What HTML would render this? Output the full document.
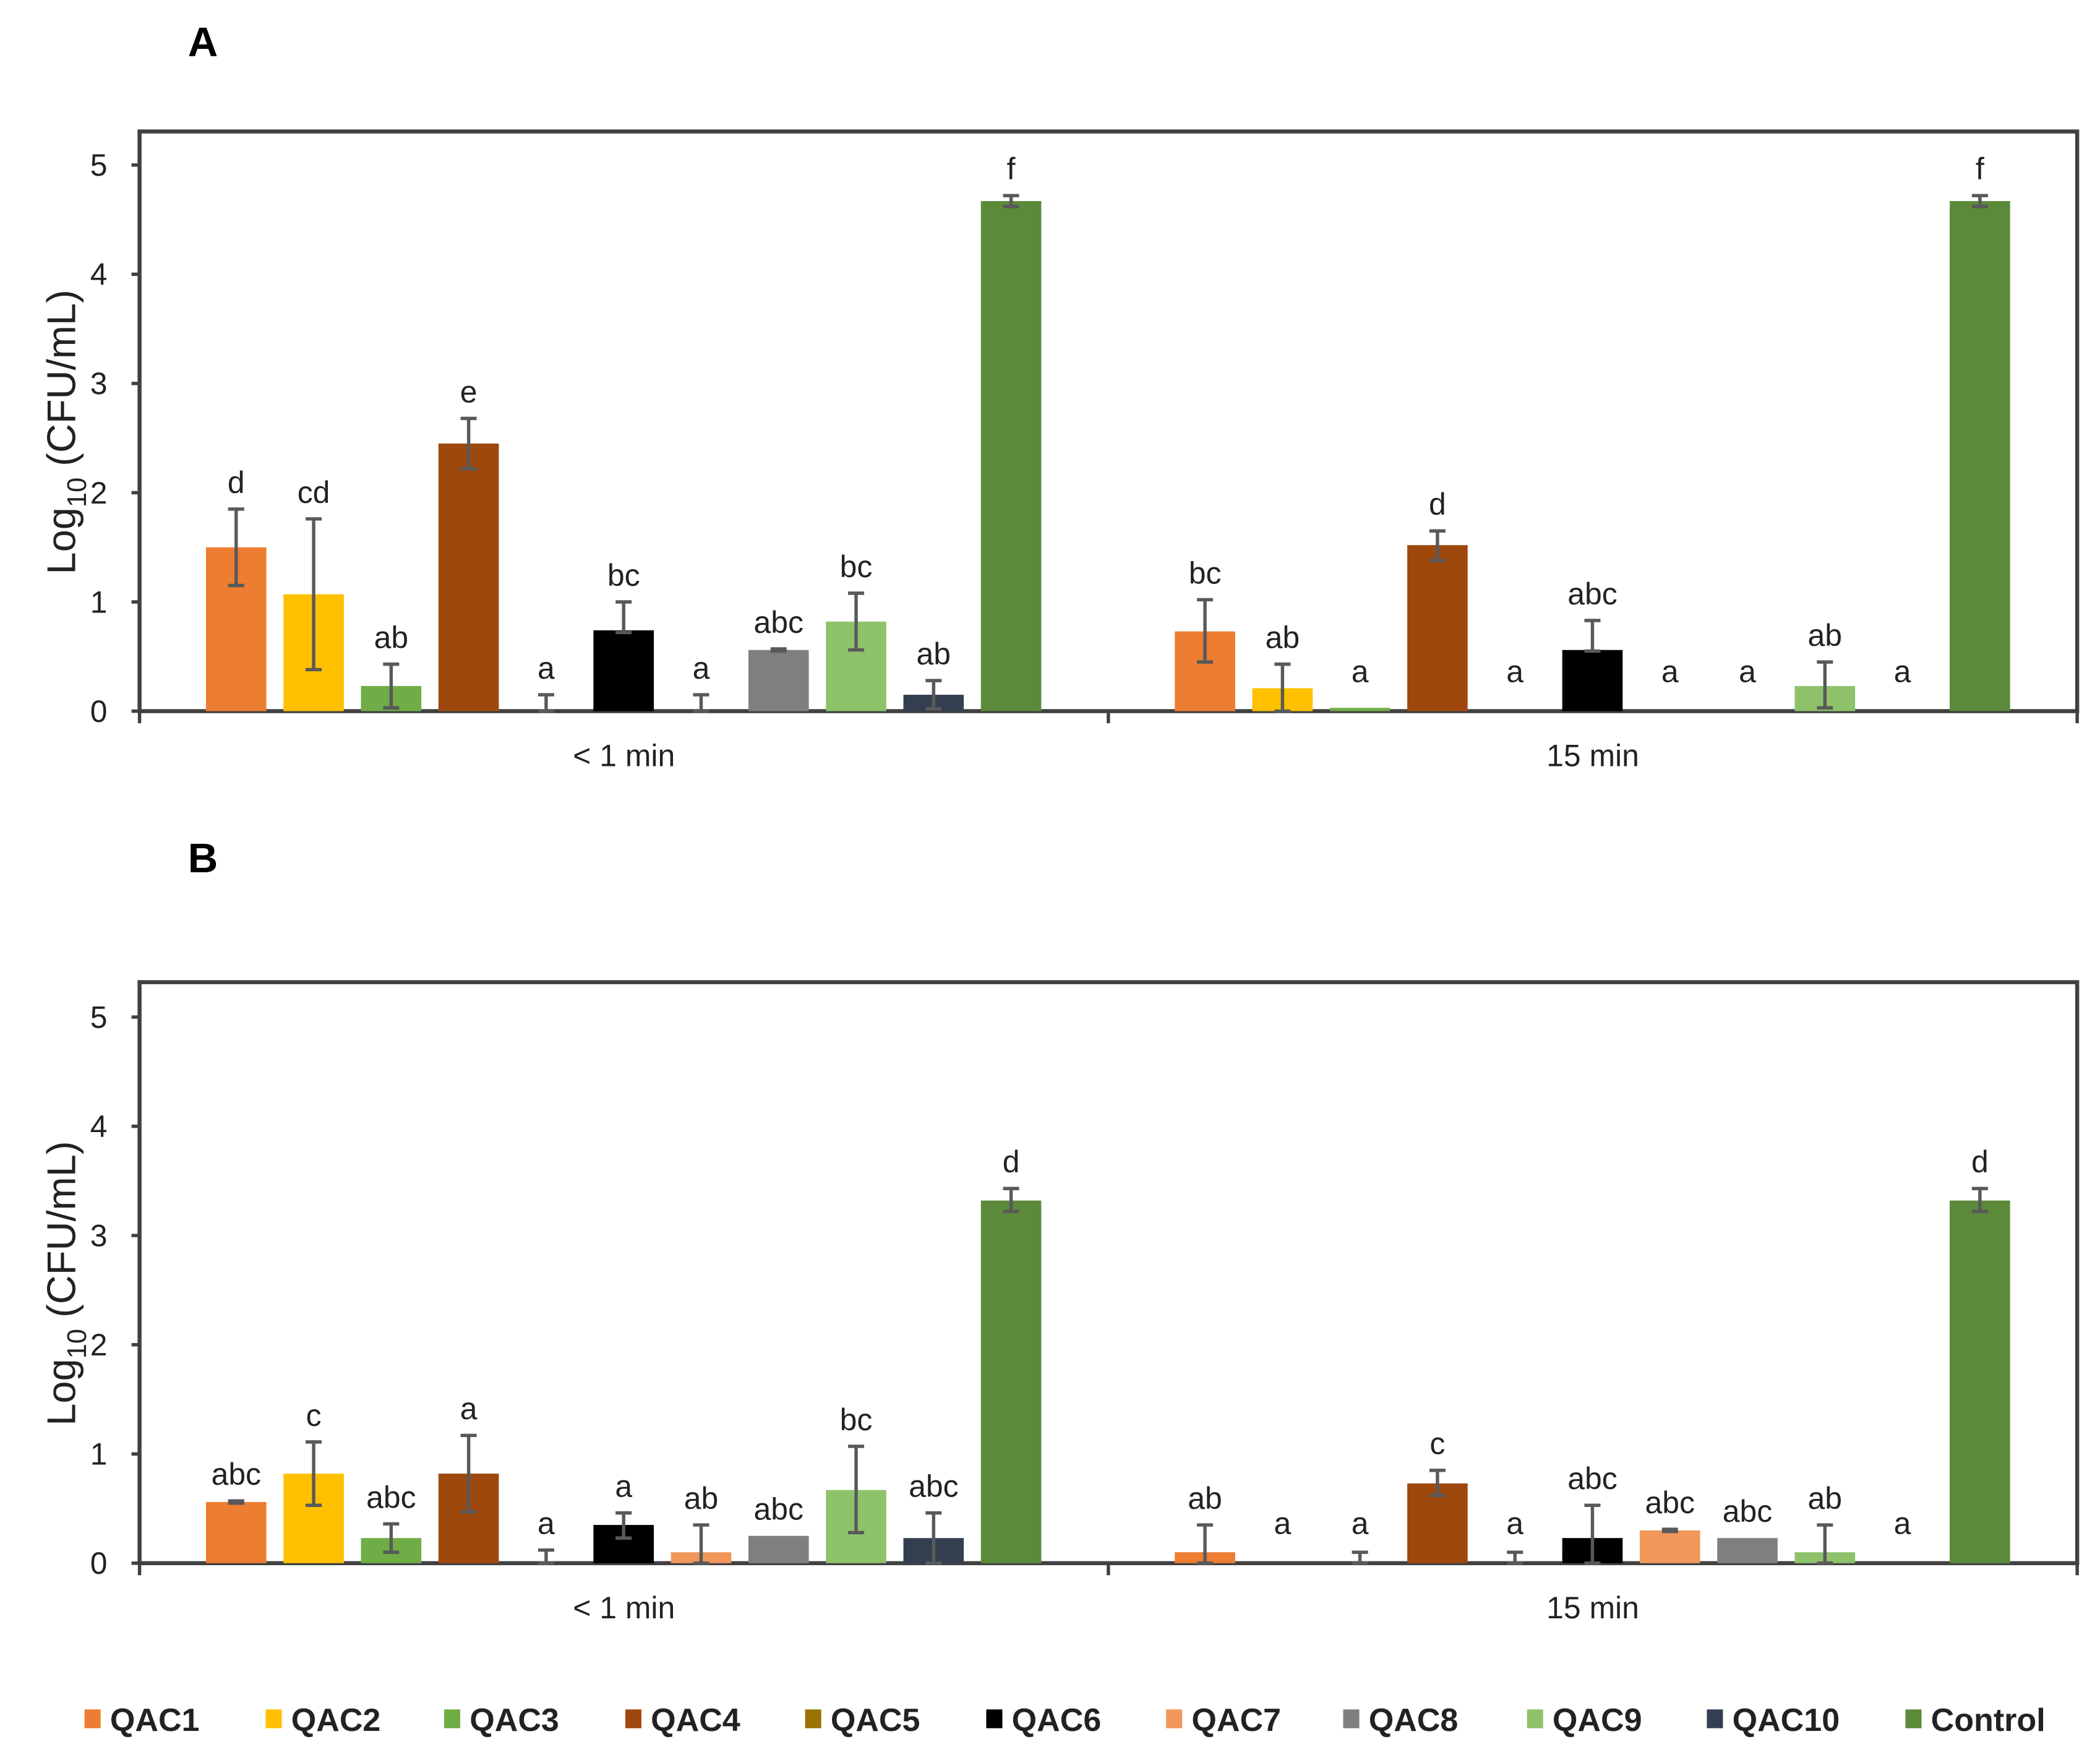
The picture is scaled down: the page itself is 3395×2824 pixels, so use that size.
<!DOCTYPE html>
<html><head><meta charset="utf-8">
<style>
html,body{margin:0;padding:0;background:#fff;}
svg{display:block;font-family:"Liberation Sans",Arial,sans-serif;}
</style></head>
<body>
<svg id="chart" width="3395" height="2824" viewBox="0 0 1565 1302" preserveAspectRatio="none" xmlns="http://www.w3.org/2000/svg">
<rect width="1565" height="1302" fill="#fff"/>
<g id="root"></g>
</svg>
<script>
const series = ["QAC1","QAC2","QAC3","QAC4","QAC5","QAC6","QAC7","QAC8","QAC9","QAC10","Control"];
const colors = ["#ED7D31","#FFC000","#70AD47","#9E480E","#997300","#000000","#F1975A","#7F7F7F","#8DC26A","#333F50","#5B8A3A"];
const groups = ["< 1 min","15 min"];
const yTicks = [0,1,2,3,4,5];
// Panel A
const aVal1 = [1.50,1.07,0.23,2.45,0,0.74,0,0.56,0.82,0.15,4.67];
const aLo1  = [1.15,0.38,0.03,2.22,0,0.72,0,0.55,0.56,0.02,4.62];
const aHi1  = [1.85,1.76,0.43,2.68,0.15,1.00,0.15,0.57,1.08,0.28,4.72];
const aLab1 = ["d","cd","ab","e","a","bc","a","abc","bc","ab","f"];
const aVal2 = [0.73,0.21,0.03,1.52,0,0.56,0,0,0.23,0,4.67];
const aLo2  = [0.45,0,0.03,1.38,0,0.55,0,0,0.03,0,4.62];
const aHi2  = [1.02,0.43,0.03,1.65,0,0.83,0,0,0.45,0,4.72];
const aLab2 = ["bc","ab","a","d","a","abc","a","a","ab","a","f"];
// Panel B
const bVal1 = [0.56,0.82,0.23,0.82,0,0.35,0.10,0.25,0.67,0.23,3.32];
const bLo1  = [0.55,0.53,0.10,0.47,0,0.23,0,0.25,0.28,0,3.22];
const bHi1  = [0.57,1.11,0.36,1.17,0.12,0.46,0.35,0.25,1.07,0.46,3.43];
const bLab1 = ["abc","c","abc","a","a","a","ab","abc","bc","abc","d"];
const bVal2 = [0.10,0,0,0.73,0,0.23,0.30,0.23,0.10,0,3.32];
const bLo2  = [0,0,0,0.62,0,0,0.29,0.23,0,0,3.22];
const bHi2  = [0.35,0,0.10,0.85,0.10,0.53,0.31,0.23,0.35,0,3.43];
const bLab2 = ["ab","a","a","c","a","abc","abc","abc","ab","a","d"];

const NS="http://www.w3.org/2000/svg";
const root=document.getElementById('root');
function mk(tag,attrs,parent,text){const e=document.createElementNS(NS,tag);for(const k in attrs)e.setAttribute(k,attrs[k]);if(text!==undefined)e.textContent=text;(parent||root).appendChild(e);return e;}

const L=104,R=1548,unit=81.4;
function xPos(g,i){return L+(R-L)/2*g+72+i*57.75;}

function panel(letter,letterY,top,zero,vals,los,his,labs){
  const y=v=>zero-v*unit;
  const g=mk('g',{});
  
  
  const t=mk('text',{x:140,y:letterY,'font-size':31,'font-weight':'bold'},g,letter);
  
  
  const fr=mk('rect',{x:L,y:top,width:R-L,height:zero-top,fill:'none',stroke:'#404040','stroke-width':3},g);
  
  
  yTicks.forEach(v=>{
    mk('line',{x1:L-6,x2:L,y1:y(v),y2:y(v),stroke:'#404040','stroke-width':2.5},g);
    const tl=mk('text',{x:L-24,y:y(v)+8,'font-size':23,'text-anchor':'end',fill:'#222'},g,String(v));
    
    
  });
  [L,(L+R)/2,R].forEach(x=>mk('line',{x1:x,x2:x,y1:zero,y2:zero+9,stroke:'#404040','stroke-width':2.5},g));
  const yt=mk('text',{transform:`translate(56,${(top+zero)/2+8}) rotate(-90)`,'font-size':30,'text-anchor':'middle',fill:'#222'},g);
  
  
  mk('tspan',{},yt,'Log');
  mk('tspan',{'font-size':20,dy:8},yt,'10');
  mk('tspan',{dy:-8},yt,' (CFU/mL)');
  for(let gi=0;gi<2;gi++){
    const gl=mk('text',{x:L+(R-L)/4*(1+2*gi),y:zero+41,'font-size':23,'text-anchor':'middle',fill:'#222'},g,groups[gi]);
    
    
    for(let i=0;i<series.length;i++){
      const v=vals[gi][i],lo=los[gi][i],hi=his[gi][i];
      const cx=xPos(gi,i);
      if(v>0){
        const b=mk('rect',{x:cx-22.5,y:y(v),width:45,height:y(0)-y(v),fill:colors[i]},g);
        
        
      }
      if(hi>lo){
        const eg=mk('g',{stroke:'#595959','stroke-width':2.5},g);
        
        
        mk('line',{x1:cx,x2:cx,y1:y(hi),y2:y(lo)},eg);
        mk('line',{x1:cx-6,x2:cx+6,y1:y(hi),y2:y(hi)},eg);
        mk('line',{x1:cx-6,x2:cx+6,y1:y(lo),y2:y(lo)},eg);
      }
      const topv=Math.max(v,hi,0.12);
      const lt=mk('text',{x:cx,y:y(topv)-12,'font-size':23,'text-anchor':'middle',fill:'#222'},g,labs[gi][i]);
      
      
    }
  }
}
panel('A',42,98,530,[aVal1,aVal2],[aLo1,aLo2],[aHi1,aHi2],[aLab1,aLab2]);
panel('B',650,732,1165,[bVal1,bVal2],[bLo1,bLo2],[bHi1,bHi2],[bLab1,bLab2]);

const legX=[63,198,331,466,600,735,869,1001,1138,1272,1420];
const lg=mk('g',{});


series.forEach((s,i)=>{
  const e=mk('g',{},lg);
  
  
  mk('rect',{x:legX[i],y:1274,width:12,height:14,fill:colors[i]},e);
  mk('text',{x:legX[i]+19,y:1290,'font-size':24,'font-weight':'bold',fill:'#222'},e,s);
});
</script>
</body></html>
